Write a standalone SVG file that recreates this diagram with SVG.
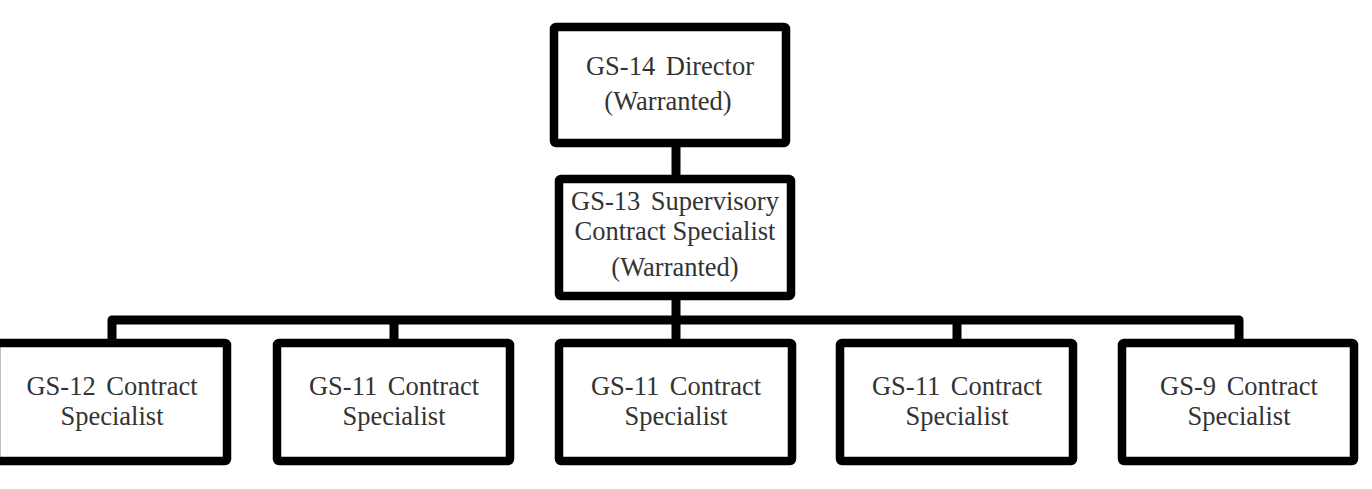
<svg xmlns="http://www.w3.org/2000/svg" width="1372" height="489" viewBox="0 0 1372 489">
<style>
.box{fill:#fff;stroke:#000;stroke-width:8.5;stroke-linejoin:round}
.con{fill:none;stroke:#000;stroke-width:9;stroke-linejoin:round}
.t{font-family:"Liberation Serif","Times New Roman",serif;font-size:26.5px;fill:#333;text-anchor:middle;word-spacing:4px}
</style>
<rect width="1372" height="489" fill="#fff"/>
<g id="connectors">
<path class="con" d="M676,143 V179"/>
<path class="con" d="M112,343 V320 H1239 V343"/>
<path class="con" d="M394,320 V343 M676,296 V343 M957,320 V343"/>
</g>
<g id="n-director">
<rect class="box" x="554" y="27" width="232" height="116" rx="2"/>
<text class="t" x="670" y="75">GS-14 Director</text>
<text class="t" x="668" y="110">(Warranted)</text>
</g>
<g id="n-supervisory">
<rect class="box" x="559" y="179" width="232" height="117" rx="2"/>
<text class="t" x="675" y="210">GS-13 Supervisory</text>
<text class="t" x="675" y="240" style="word-spacing:0">Contract Specialist</text>
<text class="t" x="675" y="276">(Warranted)</text>
</g>
<g id="n-gs12">
<rect class="box" x="-4" y="343" width="231" height="118" rx="2"/>
<text class="t" x="112" y="395">GS-12 Contract</text>
<text class="t" x="112" y="425">Specialist</text>
</g>
<g id="n-gs11a">
<rect class="box" x="277" y="343" width="233" height="118" rx="2"/>
<text class="t" x="394" y="395">GS-11 Contract</text>
<text class="t" x="394" y="425">Specialist</text>
</g>
<g id="n-gs11b">
<rect class="box" x="559" y="343" width="233" height="118" rx="2"/>
<text class="t" x="676" y="395">GS-11 Contract</text>
<text class="t" x="676" y="425">Specialist</text>
</g>
<g id="n-gs11c">
<rect class="box" x="840" y="343" width="233" height="118" rx="2"/>
<text class="t" x="957" y="395">GS-11 Contract</text>
<text class="t" x="957" y="425">Specialist</text>
</g>
<g id="n-gs9">
<rect class="box" x="1122" y="343" width="232" height="118" rx="2"/>
<text class="t" x="1239" y="395">GS-9 Contract</text>
<text class="t" x="1239" y="425">Specialist</text>
</g>
</svg>
